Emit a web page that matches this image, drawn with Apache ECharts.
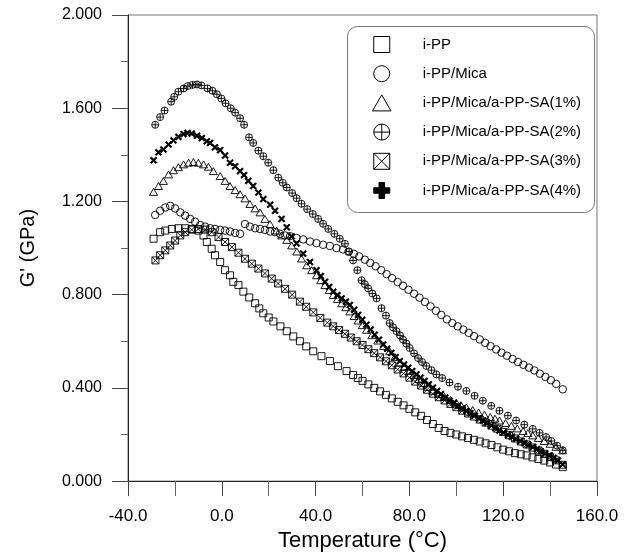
<!DOCTYPE html>
<html><head><meta charset="utf-8">
<script src="https://cdn.jsdelivr.net/npm/echarts@6/dist/echarts.min.js"></script>
<style>html,body{margin:0;padding:0;background:#fff}#c{width:631px;height:557px}</style>
</head><body><div id="c"></div>
<script>
// ---- data (Temperature in °C, G' in GPa) ----
const seriesNames = ['i-PP','i-PP/Mica','i-PP/Mica/a-PP-SA(1%)','i-PP/Mica/a-PP-SA(2%)','i-PP/Mica/a-PP-SA(3%)','i-PP/Mica/a-PP-SA(4%)'];
const xTickLabels = ['-40.0','0.0','40.0','80.0','120.0','160.0'];
const yTickLabels = ['0.000','0.400','0.800','1.200','1.600','2.000'];

const ippT = [-29.1,-26.3,-24.1,-21.3,-18.5,-15.6,-12.8,-10.0,-7.8,-6.4,-4.3,-2.9,-0.7,1.4,3.5,4.9,7.1,9.2,11.7,14.2,16.0,17.7,20.0,22.0,25.0,27.7,30.5,33.3,36.0,39.0,42.5,46.1,49.5,53.2,56.0,58.0,60.0,62.5,65.0,67.5,70.0,72.5,75.0,77.5,80.0,82.5,85.0,87.5,90.0,92.5,95.0,97.5,100.0,102.5,105.0,107.5,110.0,112.5,115.0,117.5,120.0,122.5,125.0,127.5,130.0,132.5,135.0,137.5,140.0,142.5,145.4];
const ippG = [1.040,1.068,1.075,1.082,1.085,1.085,1.082,1.075,1.054,1.026,0.997,0.969,0.940,0.905,0.883,0.855,0.841,0.813,0.788,0.763,0.741,0.720,0.702,0.685,0.664,0.643,0.621,0.600,0.578,0.557,0.536,0.515,0.493,0.472,0.455,0.442,0.430,0.415,0.400,0.385,0.370,0.355,0.340,0.325,0.310,0.295,0.280,0.262,0.245,0.228,0.215,0.207,0.200,0.192,0.185,0.177,0.170,0.162,0.155,0.145,0.135,0.128,0.120,0.115,0.110,0.102,0.095,0.088,0.080,0.071,0.060];

const micaT = [-28.4,-26.3,-24.1,-22.0,-19.9,-17.7,-15.6,-13.5,-11.4,-9.2,-7.1,-5.0,-2.9,-0.7,1.4,3.5,5.7,7.8,9.9,12.0,14.2,16.3,18.4,20.6,22.7,24.8,27.0,29.1,31.9,34.7,37.6,40.4,43.2,46.1,48.9,51.7,54.0,56.3,58.6,61.0,63.3,65.6,68.0,70.3,72.6,75.0,77.3,79.6,82.0,84.3,86.6,89.0,91.3,93.6,96.0,98.3,100.6,103.0,105.3,107.6,110.0,112.3,114.6,117.0,119.3,121.6,124.0,126.3,128.6,131.0,133.3,135.6,138.0,140.3,142.6,145.4];
const micaG = [1.142,1.160,1.174,1.181,1.170,1.153,1.139,1.125,1.113,1.099,1.092,1.085,1.082,1.078,1.075,1.071,1.065,1.061,1.103,1.092,1.085,1.082,1.078,1.071,1.068,1.061,1.054,1.051,1.043,1.037,1.028,1.021,1.014,1.009,1.000,0.994,0.984,0.975,0.964,0.950,0.936,0.922,0.905,0.888,0.871,0.854,0.838,0.821,0.804,0.787,0.769,0.750,0.731,0.713,0.694,0.678,0.664,0.650,0.636,0.622,0.608,0.593,0.579,0.565,0.551,0.538,0.524,0.511,0.499,0.487,0.475,0.461,0.447,0.433,0.417,0.394];

const sa1T = [-29.1,-27.0,-24.9,-22.7,-20.6,-18.5,-16.3,-14.2,-12.1,-10.0,-7.8,-5.7,-3.6,-0.7,1.4,3.5,5.7,7.8,9.9,12.0,14.2,16.3,18.4,20.6,23.4,25.5,27.7,29.8,32.0,34.0,36.2,38.3,40.4,42.2,44.0,45.8,47.5,49.3,51.1,52.9,54.6,56.4,58.1,59.9,61.7,64.0,66.5,69.0,71.6,73.8,75.9,78.0,80.0,82.0,84.0,86.0,88.0,90.0,92.5,95.0,97.5,100.0,102.0,104.3,107.0,109.5,112.0,114.5,116.5,118.4,121.0,123.5,126.0,128.5,130.5,132.6,135.0,137.5,140.0,142.5,145.4];
const sa1G = [1.241,1.266,1.288,1.316,1.334,1.347,1.359,1.366,1.369,1.366,1.359,1.349,1.330,1.309,1.288,1.266,1.249,1.231,1.213,1.189,1.170,1.153,1.125,1.103,1.075,1.054,1.035,1.011,0.985,0.955,0.926,0.905,0.883,0.862,0.841,0.820,0.798,0.781,0.763,0.746,0.728,0.708,0.689,0.669,0.649,0.626,0.603,0.580,0.557,0.533,0.508,0.490,0.473,0.456,0.438,0.421,0.404,0.387,0.373,0.361,0.348,0.337,0.326,0.316,0.305,0.295,0.285,0.275,0.268,0.260,0.249,0.237,0.226,0.215,0.206,0.196,0.185,0.172,0.160,0.147,0.132];

const sa2T = [-28.4,-26.3,-24.4,-21.6,-20.3,-18.5,-16.3,-14.5,-12.5,-10.6,-8.7,-6.1,-4.0,-2.1,-0.2,1.6,3.8,5.7,7.8,9.5,11.6,13.4,15.6,17.7,19.8,22.0,24.1,26.0,27.7,30.0,31.9,34.0,36.4,38.8,41.1,43.2,45.4,48.0,50.3,52.5,54.3,56.0,57.8,59.6,61.0,62.4,64.2,66.0,68.1,70.0,71.6,73.0,74.5,76.0,77.3,78.7,80.1,82.0,83.7,85.4,87.2,89.4,91.5,94.0,97.1,100.7,104.3,107.8,111.3,114.9,118.4,122.0,125.5,129.0,132.6,135.5,138.3,140.5,143.0,145.4];
const sa2G = [1.529,1.562,1.590,1.628,1.649,1.671,1.685,1.695,1.700,1.702,1.698,1.685,1.675,1.660,1.642,1.621,1.600,1.581,1.557,1.529,1.475,1.451,1.418,1.394,1.366,1.334,1.302,1.280,1.260,1.236,1.214,1.190,1.167,1.146,1.125,1.104,1.082,1.061,1.040,1.018,0.985,0.947,0.905,0.862,0.845,0.827,0.805,0.784,0.742,0.710,0.678,0.660,0.643,0.625,0.607,0.590,0.571,0.548,0.528,0.511,0.494,0.476,0.458,0.442,0.423,0.405,0.387,0.366,0.345,0.323,0.302,0.281,0.260,0.242,0.224,0.207,0.189,0.172,0.152,0.132];

const sa3T = [-28.3,-26.3,-24.1,-22.0,-19.9,-17.7,-15.6,-12.8,-10.0,-7.1,-4.3,-1.4,1.4,4.3,7.1,9.9,12.8,15.6,18.4,21.3,24.0,27.0,30.0,33.3,36.0,39.0,42.0,45.0,47.5,50.0,52.5,55.0,57.5,60.0,62.5,65.0,67.5,70.0,72.5,75.0,77.5,80.0,82.5,85.0,87.5,90.0,92.5,95.0,97.5,100.0,102.5,105.0,107.5,110.0,112.5,115.0,117.5,120.0,122.5,125.0,127.5,130.0,132.5,135.0,137.5,140.0,142.5,145.4];
const sa3G = [0.947,0.969,0.990,1.011,1.032,1.054,1.068,1.079,1.082,1.079,1.068,1.047,1.026,1.004,0.980,0.954,0.933,0.912,0.891,0.869,0.848,0.825,0.800,0.770,0.748,0.724,0.700,0.680,0.664,0.648,0.632,0.616,0.600,0.584,0.566,0.549,0.531,0.514,0.497,0.479,0.462,0.444,0.427,0.410,0.392,0.375,0.360,0.346,0.331,0.317,0.302,0.290,0.277,0.264,0.251,0.238,0.225,0.211,0.197,0.183,0.170,0.157,0.144,0.131,0.117,0.103,0.089,0.070];

const sa4T = [-29.1,-27.0,-24.9,-22.7,-20.6,-18.5,-16.3,-14.6,-12.8,-10.6,-8.5,-6.4,-5.0,-2.9,-0.7,1.4,3.5,5.7,7.8,9.5,11.3,13.4,15.6,17.7,20.6,22.7,25.5,27.7,29.8,31.9,34.7,37.6,40.4,42.2,44.0,45.8,47.5,49.3,51.1,52.9,54.6,56.4,58.1,59.9,61.7,63.5,65.2,67.0,68.8,70.5,72.3,74.1,75.9,77.7,79.5,81.2,83.0,84.8,86.5,88.3,90.0,91.8,93.5,95.3,97.1,98.9,100.7,102.5,104.3,106.0,107.8,109.6,111.3,113.1,114.9,116.6,118.4,120.2,122.0,123.7,125.5,127.3,129.0,130.8,132.6,134.4,136.1,137.9,139.7,141.5,143.3,145.4];
const sa4G = [1.377,1.411,1.423,1.444,1.462,1.477,1.489,1.494,1.491,1.482,1.472,1.458,1.451,1.432,1.420,1.397,1.366,1.351,1.330,1.313,1.288,1.266,1.238,1.210,1.186,1.160,1.125,1.089,1.050,1.020,0.976,0.940,0.905,0.880,0.855,0.833,0.813,0.798,0.784,0.770,0.756,0.735,0.713,0.692,0.671,0.650,0.628,0.607,0.586,0.568,0.550,0.532,0.515,0.500,0.486,0.472,0.458,0.444,0.430,0.415,0.401,0.387,0.373,0.359,0.345,0.334,0.323,0.312,0.302,0.291,0.281,0.270,0.260,0.249,0.239,0.228,0.217,0.208,0.199,0.190,0.181,0.172,0.163,0.155,0.146,0.137,0.128,0.119,0.111,0.100,0.088,0.072];

// ---- symbols ----
const P_SQUARE = 'path://M0,0L10,0L10,10L0,10Z';
const P_CIRCLE = 'path://M10,5A5,5,0,1,1,0,5A5,5,0,1,1,10,5Z';
const P_TRI = 'path://M5,0L10,8.66L0,8.66Z';
const P_CPLUS = 'path://M10,5A5,5,0,1,1,0,5A5,5,0,1,1,10,5ZM5,0L5,10M0,5L10,5';
const P_SQX = 'path://M0,0L10,0L10,10L0,10ZM0,0L10,10M10,0L0,10';
const P_PLUS = 'path://M3.3,0L6.7,0L6.7,3.3L10,3.3L10,6.7L6.7,6.7L6.7,10L3.3,10L3.3,6.7L0,6.7L0,3.3L3.3,3.3Z';
const P_X = 'path://M0,1.6L1.6,0L5,3.4L8.4,0L10,1.6L6.6,5L10,8.4L8.4,10L5,6.6L1.6,10L0,8.4L3.4,5Z';

function zip(t, g) { const n = Math.min(t.length, g.length); const r = []; for (let i = 0; i < n; i++) r.push([t[i], g[i]]); return r; }

const defs = [
  {name: seriesNames[0], t: ippT, g: ippG, sym: P_SQUARE, icon: P_SQUARE, size: 7, fill: 'rgba(0,0,0,0)'},
  {name: seriesNames[1], t: micaT, g: micaG, sym: P_CIRCLE, icon: P_CIRCLE, size: 7.5, fill: 'rgba(0,0,0,0)'},
  {name: seriesNames[2], t: sa1T, g: sa1G, sym: P_TRI, icon: P_TRI, size: 8, fill: 'rgba(0,0,0,0)'},
  {name: seriesNames[3], t: sa2T, g: sa2G, sym: P_CPLUS, icon: P_CPLUS, size: 7, fill: 'rgba(0,0,0,0)'},
  {name: seriesNames[4], t: sa3T, g: sa3G, sym: P_SQX, icon: P_SQX, size: 7, fill: 'rgba(0,0,0,0)'},
  {name: seriesNames[5], t: sa4T, g: sa4G, sym: P_X, icon: P_PLUS, size: 6.5, fill: '#000'}
];

const FONT = 'Liberation Sans, Arial, Helvetica, sans-serif';
const chart = echarts.init(document.getElementById('c'), null, {renderer: 'canvas', width: 631, height: 557});

chart.setOption({
  backgroundColor: '#fff',
  animation: false,
  textStyle: {fontFamily: FONT, color: '#000'},
  grid: {left: 128, right: 34, top: 15, bottom: 73, show: true, borderColor: '#777', borderWidth: 1, backgroundColor: 'transparent'},
  xAxis: {
    type: 'value', min: -40, max: 160, interval: 40,
    name: 'Temperature (°C)', nameLocation: 'middle', nameGap: 46,
    nameTextStyle: {fontSize: 22, color: '#000', fontFamily: FONT},
    axisLine: {show: true, onZero: false, lineStyle: {color: '#222', width: 1}},
    axisTick: {show: true, inside: false, length: 15, lineStyle: {color: '#444'}},
    minorTick: {show: true, splitNumber: 2, length: 15, lineStyle: {color: '#666'}},
    splitLine: {show: false},
    axisLabel: {fontSize: 17, color: '#000', margin: 27, fontFamily: FONT,
      formatter: v => xTickLabels[Math.round((v + 40) / 40)]}
  },
  yAxis: {
    type: 'value', min: 0, max: 2, interval: 0.4,
    name: "G' (GPa)", nameLocation: 'middle', nameGap: 90, nameRotate: 90,
    nameTextStyle: {fontSize: 20, color: '#000', fontFamily: FONT},
    axisLine: {show: true, onZero: false, lineStyle: {color: '#222', width: 1}},
    axisTick: {show: true, inside: false, length: 16, lineStyle: {color: '#444'}},
    minorTick: {show: true, splitNumber: 2, length: 7, lineStyle: {color: '#666'}},
    splitLine: {show: false},
    axisLabel: {fontSize: 16, color: '#000', margin: 26, fontFamily: FONT,
      formatter: v => yTickLabels[Math.round(v / 0.4)]}
  },
  legend: {
    orient: 'vertical', left: 372, top: 36, padding: 0,
    itemWidth: 72, itemHeight: 16, itemGap: 12.2, symbolKeepAspect: true,
    textStyle: {fontSize: 15, color: '#000', fontFamily: FONT},
    itemStyle: {borderColor: '#000', borderWidth: 1},
    selectedMode: false,
    data: defs.map(d => ({name: d.name, icon: d.icon}))
  },
  graphic: [{
    type: 'rect', left: 347, top: 26, z: -1,
    shape: {width: 247, height: 186, r: 10},
    style: {fill: '#fff', stroke: '#777', lineWidth: 1}
  }],
  series: defs.map(d => ({
    name: d.name, type: 'scatter', data: zip(d.t, d.g),
    symbol: d.sym, symbolSize: d.size, symbolKeepAspect: true,
    itemStyle: {color: d.fill, borderColor: '#000', borderWidth: 0.9, opacity: 1},
    emphasis: {disabled: true}, silent: true
  }))
});
</script></body></html>
